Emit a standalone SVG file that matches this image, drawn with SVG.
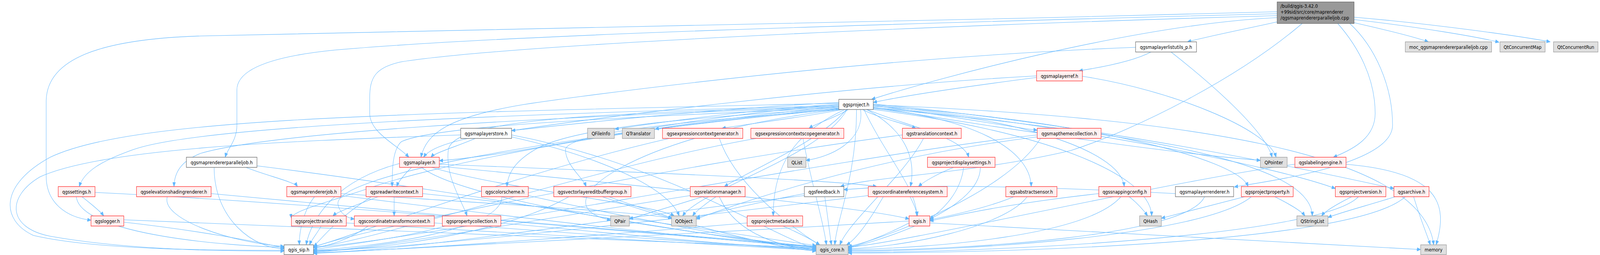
<svg xmlns="http://www.w3.org/2000/svg" width="4782" height="652" viewBox="0 0 4782 652" preserveAspectRatio="none" style="width:100vw;height:100vh;display:block">
<defs>
<marker id="arr" markerUnits="userSpaceOnUse" markerWidth="12" markerHeight="9" refX="11" refY="4.5" orient="auto">
<path d="M0,0 L11,4.5 L0,9 z" fill="#63b8ff" stroke="#63b8ff" stroke-width="1"/>
</marker>
</defs>
<style>
.e{fill:none;stroke:#63b8ff;stroke-width:1.1;marker-end:url(#arr)}
.node text{font-family:"DejaVu Sans","Liberation Sans",sans-serif;font-size:12.8px;fill:#000;text-anchor:middle}
.red rect{fill:#fff0f0;stroke:#ff2a2a;stroke-width:1.3}
.white rect{fill:#ffffff;stroke:#666666;stroke-width:1.3}
.ext rect{fill:#e0e0e0;stroke:#999999;stroke-width:1.3}
.main rect{fill:#999999;stroke:#666666;stroke-width:1.3}
.main text{text-anchor:start}
</style>
<rect x="0" y="0" width="4782" height="652" fill="#ffffff"/>
<g id="connectors">
<path class="e" d="M3817,30 C2600,60 1200,75 600,92 C300,100 138,150 138,260 L138,450 C138,520 200,556 272,563"/>
<path class="e" d="M3817,35 C2600,62 1500,90 1000,128 C800,145 708,180 708,230 L708,320 C708,360 680,380 673,402"/>
<path class="e" d="M3817,40 C2600,70 1500,118 1200,158 C1120,172 1105,200 1105,250 L1105,290 C1105,340 1190,372 1222,402"/>
<path class="e" d="M3817,45 C3400,62 2800,200 2605,254"/>
<path class="e" d="M3817,56 C3700,78 3600,95 3549,107"/>
<path class="e" d="M4047,58 C4150,78 4230,95 4269,107"/>
<path class="e" d="M4047,50 C4250,70 4420,95 4480,108"/>
<path class="e" d="M4047,44 C4300,62 4560,95 4633,107"/>
<path class="e" d="M3998,60 C4060,120 4110,200 4110,290 C4110,350 4050,380 3985,402"/>
<path class="e" d="M4034,60 C4110,120 4162,220 4162,320 C4162,420 3800,462 3689,478"/>
<path class="e" d="M3892,60 C3700,200 3400,330 3200,385 C2900,445 2600,452 2512,477"/>
<path class="e" d="M3394,121 C2500,150 1600,262 1560,268 C1340,300 1275,340 1258,402"/>
<path class="e" d="M3440,133 C3380,160 3270,175 3225,181"/>
<path class="e" d="M3500,133 C3600,200 3780,330 3802,402"/>
<path class="e" d="M3098,198 C2900,220 2700,245 2610,262"/>
<path class="e" d="M3098,194 C2500,222 1800,300 1560,330 C1400,350 1290,370 1266,402"/>
<path class="e" d="M3235,195 C3500,230 3790,330 3814,402"/>
<path class="e" d="M2507,262 C2100,280 1700,318 1529,334"/>
<path class="e" d="M2507,266 C2200,284 1950,316 1838,330"/>
<path class="e" d="M2507,272 C2300,290 2050,316 1958,330"/>
<path class="e" d="M2518,280 C2400,300 2250,315 2158,328"/>
<path class="e" d="M2535,280 C2500,300 2440,315 2418,328"/>
<path class="e" d="M2578,280 C2620,300 2700,315 2737,328"/>
<path class="e" d="M2610,270 C2800,290 3000,322 3100,333"/>
<path class="e" d="M2507,268 C2000,300 1600,392 1313,411"/>
<path class="e" d="M2572,280 C2585,362 2480,402 2409,410"/>
<path class="e" d="M2592,280 C2700,320 2880,350 2895,402"/>
<path class="e" d="M2610,274 C3000,330 3500,392 3767,410"/>
<path class="e" d="M2507,270 C1500,292 600,322 400,382 C300,412 250,440 237,477"/>
<path class="e" d="M2507,274 C1500,302 800,342 600,392 C540,412 521,442 520,477"/>
<path class="e" d="M2507,276 C1800,302 1300,322 1200,362 C1172,382 1172,440 1172,477"/>
<path class="e" d="M2510,278 C2000,302 1700,332 1600,382 C1540,412 1518,442 1515,477"/>
<path class="e" d="M2515,280 C2000,312 1700,342 1690,382 C1690,422 1740,452 1752,477"/>
<path class="e" d="M2530,280 C2450,362 2250,432 2165,477"/>
<path class="e" d="M2590,280 C2700,330 2740,400 2721,477"/>
<path class="e" d="M2610,278 C2900,300 3080,380 3082,477"/>
<path class="e" d="M2610,276 C3000,292 3350,380 3360,477"/>
<path class="e" d="M2610,272 C3200,302 3700,402 3730,477"/>
<path class="e" d="M2610,268 C3200,322 3800,422 3991,482"/>
<path class="e" d="M2610,266 C3300,322 3900,432 4166,482"/>
<path class="e" d="M2507,277 C1800,332 1300,422 1100,482 C1000,512 868,540 871,558"/>
<path class="e" d="M2507,279 C1600,352 1000,452 1010,522 C1015,547 1040,558 1059,560"/>
<path class="e" d="M2512,272 C1800,290 1360,302 1340,382 C1330,452 1380,512 1396,552"/>
<path class="e" d="M2510,280 C1900,342 1600,522 1825,563"/>
<path class="e" d="M2532,280 C2450,402 2100,482 2040,552"/>
<path class="e" d="M2525,280 C2400,330 2310,402 2311,552"/>
<path class="e" d="M2582,280 C2650,402 2740,482 2740,552"/>
<path class="e" d="M2610,280 C3100,332 3440,442 3442,552"/>
<path class="e" d="M2610,276 C3300,332 3920,402 3922,552"/>
<path class="e" d="M2507,264 C1200,290 400,300 150,402 C0,472 0,562 100,602 C300,642 700,640 849,640"/>
<path class="e" d="M2560,280 C2560,452 2500,562 2495,626"/>
<path class="e" d="M2610,268 C3500,300 4250,382 4285,626"/>
<path class="e" d="M1420,354 C1380,370 1300,390 1288,402"/>
<path class="e" d="M1529,350 C1800,402 2000,482 2030,552"/>
<path class="e" d="M1377,345 C800,362 300,382 120,452 C20,502 20,582 150,604 C400,642 700,642 849,642"/>
<path class="e" d="M1529,345 C2000,422 2300,602 2439,636"/>
<path class="e" d="M735,428 C800,450 880,465 889,477"/>
<path class="e" d="M768,424 C1500,502 2200,622 2439,634"/>
<path class="e" d="M640,428 C640,562 760,636 849,636"/>
<path class="e" d="M1230,428 C1210,445 1190,465 1186,477"/>
<path class="e" d="M1313,420 C1900,440 2500,460 2620,477"/>
<path class="e" d="M1290,428 C1500,482 1950,522 2015,552"/>
<path class="e" d="M1313,425 C2000,482 2600,532 2717,560"/>
<path class="e" d="M1194,418 C1000,462 930,560 915,626"/>
<path class="e" d="M1260,428 C1400,522 2200,612 2439,632"/>
<path class="e" d="M940,503 C905,540 893,600 895,626"/>
<path class="e" d="M1019,500 C1600,562 2200,622 2439,630"/>
<path class="e" d="M1019,495 C1500,522 1900,542 2008,558"/>
<path class="e" d="M1178,503 C1178,520 1178,540 1178,552"/>
<path class="e" d="M1130,503 C1080,520 1010,540 995,552"/>
<path class="e" d="M1110,503 C1000,562 950,622 937,630"/>
<path class="e" d="M1263,495 C1800,542 2300,612 2439,628"/>
<path class="e" d="M960,578 C945,600 930,615 925,626"/>
<path class="e" d="M1035,570 C1600,602 2200,632 2439,640"/>
<path class="e" d="M1100,578 C1050,610 980,630 937,634"/>
<path class="e" d="M1298,570 C1800,602 2200,627 2439,636"/>
<path class="e" d="M1330,578 C1200,610 1000,630 937,638"/>
<path class="e" d="M1497,570 C1900,602 2250,632 2439,638"/>
<path class="e" d="M1500,503 C1500,592 1100,632 937,640"/>
<path class="e" d="M1579,500 C1900,562 2300,622 2439,640"/>
<path class="e" d="M1820,503 C1900,530 1990,547 2008,560"/>
<path class="e" d="M1700,503 C1500,602 1100,640 937,642"/>
<path class="e" d="M1800,503 C2000,562 2300,632 2439,642"/>
<path class="e" d="M2140,503 C2110,520 2080,540 2070,552"/>
<path class="e" d="M2100,503 C2000,530 1910,552 1881,560"/>
<path class="e" d="M2150,503 C2200,602 2350,636 2439,636"/>
<path class="e" d="M2063,500 C1600,562 1100,640 937,644"/>
<path class="e" d="M2465,503 C2475,560 2480,600 2485,626"/>
<path class="e" d="M2404,495 C2250,520 2120,547 2081,556"/>
<path class="e" d="M2404,500 C1800,562 1200,645 937,646"/>
<path class="e" d="M2720,503 C2730,520 2740,540 2742,552"/>
<path class="e" d="M2640,503 C2600,562 2560,612 2530,626"/>
<path class="e" d="M2595,500 C2000,562 1200,640 937,640"/>
<path class="e" d="M2850,428 C2800,445 2760,465 2745,477"/>
<path class="e" d="M2880,428 C2870,502 2800,547 2779,560"/>
<path class="e" d="M2930,428 C2930,542 2600,622 2535,634"/>
<path class="e" d="M3030,503 C2950,532 2820,555 2779,562"/>
<path class="e" d="M3070,503 C3000,582 2700,632 2535,636"/>
<path class="e" d="M3375,503 C3400,520 3420,540 3430,552"/>
<path class="e" d="M3350,503 C3250,602 2800,634 2535,638"/>
<path class="e" d="M3284,495 C3000,522 2850,552 2779,565"/>
<path class="e" d="M3513,495 C3000,472 2700,472 2522,485"/>
<path class="e" d="M3600,503 C3550,602 2900,640 2535,640"/>
<path class="e" d="M3720,503 C3600,530 3500,552 3471,558"/>
<path class="e" d="M3810,503 C3850,520 3890,540 3900,552"/>
<path class="e" d="M3740,503 C3600,602 2900,642 2535,642"/>
<path class="e" d="M4040,503 C4000,520 3960,540 3950,552"/>
<path class="e" d="M4060,503 C3950,602 3000,645 2535,645"/>
<path class="e" d="M4170,503 C4100,522 4000,545 3969,556"/>
<path class="e" d="M4200,503 C4050,622 3000,647 2535,647"/>
<path class="e" d="M4225,503 C4245,560 4265,600 4275,626"/>
<path class="e" d="M4023,420 C4300,440 4330,520 4292,626"/>
<path class="e" d="M3870,420 C3500,462 2700,622 2535,632"/>
<path class="e" d="M2717,570 C2650,600 2560,630 2535,632"/>
<path class="e" d="M2717,565 C2000,602 1200,640 937,648"/>
<path class="e" d="M2779,570 C3500,602 4100,632 4246,638"/>
<path class="e" d="M2340,578 C2400,600 2430,615 2450,626"/>
<path class="e" d="M2233,570 C1800,602 1200,640 937,646"/>
<path class="e" d="M2760,354 C2700,452 2540,562 2510,626"/>
<path class="e" d="M2697,345 C2000,422 1000,602 937,633"/>
<path class="e" d="M3110,354 C3000,502 2600,622 2535,630"/>
<path class="e" d="M3100,345 C2500,402 1200,622 937,632"/>
<path class="e" d="M3100,350 C2600,402 2200,522 2081,560"/>
<path class="e" d="M2150,354 C2200,482 2400,602 2450,626"/>
<path class="e" d="M2000,354 C1500,452 1000,622 937,630"/>
<path class="e" d="M2400,354 C2420,452 2460,562 2470,626"/>
<path class="e" d="M2260,354 C1800,422 1100,622 937,632"/>
<path class="e" d="M245,503 C270,520 300,540 310,552"/>
<path class="e" d="M284,492 C1000,522 2000,602 2439,632"/>
<path class="e" d="M228,503 C240,602 700,630 849,632"/>
<path class="e" d="M500,503 C480,562 700,622 849,630"/>
<path class="e" d="M631,495 C1200,542 2000,602 2439,630"/>
<path class="e" d="M370,568 C600,590 780,620 849,634"/>
<path class="e" d="M370,562 C1000,582 2000,622 2439,634"/>
</g>
<g id="node_main" class="node main"><rect x="3817" y="5" width="230" height="55"/><text x="3827" y="20.5">/build/qgis-3.42.0</text><text x="3827" y="35.5">+99sid/src/core/maprenderer</text><text x="3827" y="50.5">/qgsmaprendererparalleljob.cpp</text></g>
<g id="node_maplayerlistutils" class="node white"><rect x="3394" y="107" width="182" height="26"/><text x="3485" y="125">qgsmaplayerlistutils_p.h</text></g>
<g id="node_moc" class="node ext"><rect x="4200" y="107" width="258" height="26"/><text x="4329" y="125">moc_qgsmaprendererparalleljob.cpp</text></g>
<g id="node_qtconcurrentmap" class="node ext"><rect x="4483" y="107" width="135" height="26"/><text x="4550.5" y="125">QtConcurrentMap</text></g>
<g id="node_qtconcurrentrun" class="node ext"><rect x="4643" y="107" width="133" height="26"/><text x="4709.5" y="125">QtConcurrentRun</text></g>
<g id="node_maplayerref" class="node red"><rect x="3098" y="181" width="137" height="26"/><text x="3166.5" y="199">qgsmaplayerref.h</text></g>
<g id="node_project" class="node white"><rect x="2507" y="254" width="103" height="26"/><text x="2558.5" y="272">qgsproject.h</text></g>
<g id="node_maplayerstore" class="node white"><rect x="1377" y="328" width="152" height="26"/><text x="1453" y="346">qgsmaplayerstore.h</text></g>
<g id="node_qfileinfo" class="node ext"><rect x="1756" y="328" width="80" height="26"/><text x="1796" y="346">QFileInfo</text></g>
<g id="node_qtranslator" class="node ext"><rect x="1860" y="328" width="96" height="26"/><text x="1908" y="346">QTranslator</text></g>
<g id="node_exprctxgen" class="node red"><rect x="1980" y="328" width="240" height="26"/><text x="2100" y="346">qgsexpressioncontextgenerator.h</text></g>
<g id="node_scopegen" class="node red"><rect x="2244" y="328" width="278" height="26"/><text x="2383" y="346">qgsexpressioncontextscopegenerator.h</text></g>
<g id="node_translationcontext" class="node red"><rect x="2697" y="328" width="176" height="26"/><text x="2785" y="346">qgstranslationcontext.h</text></g>
<g id="node_mapthemecollection" class="node red"><rect x="3100" y="328" width="191" height="26"/><text x="3195.5" y="346">qgsmapthemecollection.h</text></g>
<g id="node_paralleljob_h" class="node white"><rect x="557" y="402" width="211" height="26"/><text x="662.5" y="420">qgsmaprendererparalleljob.h</text></g>
<g id="node_maplayer" class="node red"><rect x="1194" y="402" width="119" height="26"/><text x="1253.5" y="420">qgsmaplayer.h</text></g>
<g id="node_qlist" class="node ext"><rect x="2354" y="402" width="55" height="26"/><text x="2381.5" y="420">QList</text></g>
<g id="node_displaysettings" class="node red"><rect x="2772" y="402" width="202" height="26"/><text x="2873" y="420">qgsprojectdisplaysettings.h</text></g>
<g id="node_qpointer" class="node ext"><rect x="3767" y="402" width="80" height="26"/><text x="3807" y="420">QPointer</text></g>
<g id="node_labelingengine" class="node red"><rect x="3870" y="402" width="153" height="26"/><text x="3946.5" y="420">qgslabelingengine.h</text></g>
<g id="node_settings" class="node red"><rect x="174" y="477" width="110" height="26"/><text x="229" y="495">qgssettings.h</text></g>
<g id="node_elevationshading" class="node red"><rect x="408" y="477" width="223" height="26"/><text x="519.5" y="495">qgselevationshadingrenderer.h</text></g>
<g id="node_maprendererjob" class="node red"><rect x="857" y="477" width="162" height="26"/><text x="938" y="495">qgsmaprendererjob.h</text></g>
<g id="node_readwritecontext" class="node red"><rect x="1094" y="477" width="169" height="26"/><text x="1178.5" y="495">qgsreadwritecontext.h</text></g>
<g id="node_colorscheme" class="node red"><rect x="1439" y="477" width="140" height="26"/><text x="1509" y="495">qgscolorscheme.h</text></g>
<g id="node_editbuffergroup" class="node red"><rect x="1655" y="477" width="231" height="26"/><text x="1770.5" y="495">qgsvectorlayereditbuffergroup.h</text></g>
<g id="node_relationmanager" class="node red"><rect x="2063" y="477" width="164" height="26"/><text x="2145" y="495">qgsrelationmanager.h</text></g>
<g id="node_feedback" class="node white"><rect x="2404" y="477" width="118" height="26"/><text x="2463" y="495">qgsfeedback.h</text></g>
<g id="node_crs" class="node red"><rect x="2595" y="477" width="236" height="26"/><text x="2713" y="495">qgscoordinatereferencesystem.h</text></g>
<g id="node_abstractsensor" class="node red"><rect x="3006" y="477" width="153" height="26"/><text x="3082.5" y="495">qgsabstractsensor.h</text></g>
<g id="node_snappingconfig" class="node red"><rect x="3284" y="477" width="155" height="26"/><text x="3361.5" y="495">qgssnappingconfig.h</text></g>
<g id="node_maplayerrenderer" class="node white"><rect x="3513" y="477" width="174" height="26"/><text x="3600" y="495">qgsmaplayerrenderer.h</text></g>
<g id="node_projectproperty" class="node red"><rect x="3710" y="477" width="155" height="26"/><text x="3787.5" y="495">qgsprojectproperty.h</text></g>
<g id="node_projectversion" class="node red"><rect x="3991" y="477" width="151" height="26"/><text x="4066.5" y="495">qgsprojectversion.h</text></g>
<g id="node_archive" class="node red"><rect x="4166" y="477" width="105" height="26"/><text x="4218.5" y="495">qgsarchive.h</text></g>
<g id="node_logger" class="node red"><rect x="272" y="552" width="98" height="26"/><text x="321" y="570">qgslogger.h</text></g>
<g id="node_projecttranslator" class="node red"><rect x="871" y="552" width="164" height="26"/><text x="953" y="570">qgsprojecttranslator.h</text></g>
<g id="node_ctc" class="node red"><rect x="1059" y="552" width="239" height="26"/><text x="1178.5" y="570">qgscoordinatetransformcontext.h</text></g>
<g id="node_propertycollection" class="node red"><rect x="1322" y="552" width="175" height="26"/><text x="1409.5" y="570">qgspropertycollection.h</text></g>
<g id="node_qpair" class="node ext"><rect x="1825" y="552" width="56" height="26"/><text x="1853" y="570">QPair</text></g>
<g id="node_qobject" class="node ext"><rect x="2007" y="552" width="74" height="26"/><text x="2044" y="570">QObject</text></g>
<g id="node_projectmetadata" class="node red"><rect x="2233" y="552" width="166" height="26"/><text x="2316" y="570">qgsprojectmetadata.h</text></g>
<g id="node_qgis" class="node red"><rect x="2717" y="552" width="62" height="26"/><text x="2748" y="570">qgis.h</text></g>
<g id="node_qhash" class="node ext"><rect x="3406" y="552" width="65" height="26"/><text x="3438.5" y="570">QHash</text></g>
<g id="node_qstringlist" class="node ext"><rect x="3876" y="552" width="93" height="26"/><text x="3922.5" y="570">QStringList</text></g>
<g id="node_qgis_sip" class="node white"><rect x="849" y="626" width="88" height="25"/><text x="893" y="643.5">qgis_sip.h</text></g>
<g id="node_qgis_core" class="node ext"><rect x="2439" y="626" width="96" height="25"/><text x="2487" y="643.5">qgis_core.h</text></g>
<g id="node_memory" class="node ext"><rect x="4246" y="626" width="77" height="25"/><text x="4284.5" y="643.5">memory</text></g>
</svg>
